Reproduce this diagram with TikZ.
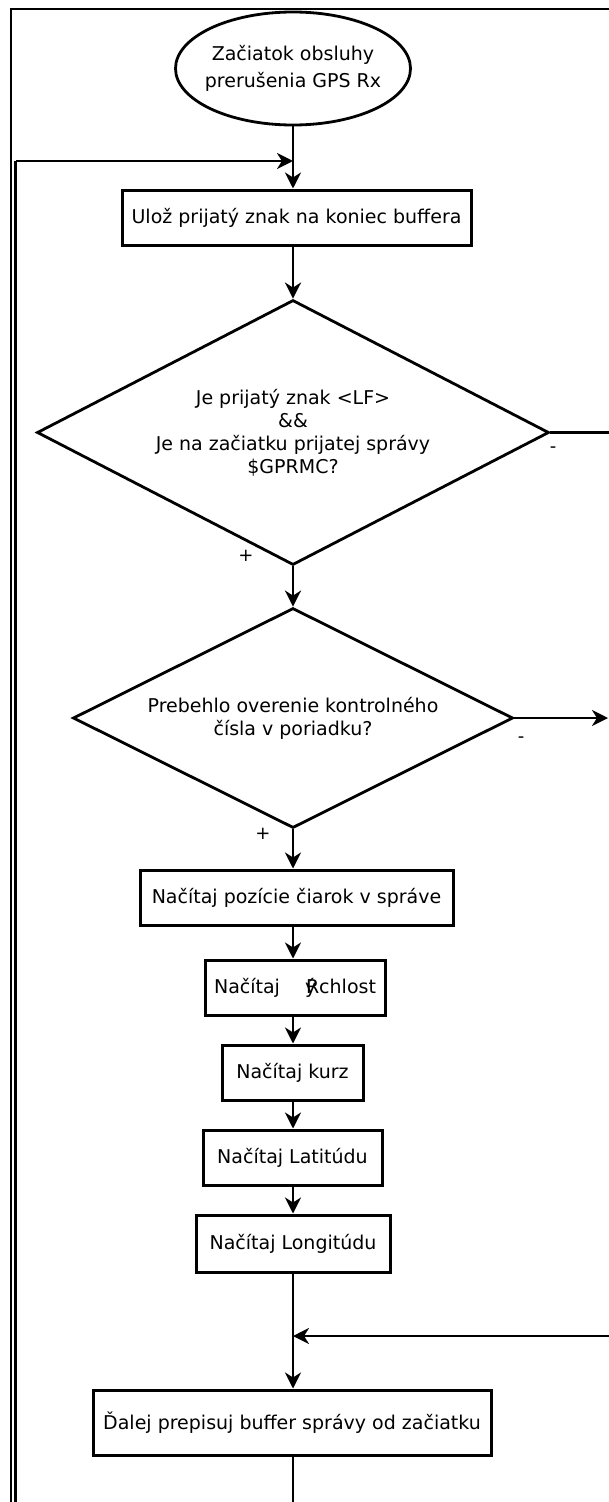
\documentclass[tikz,border=0pt]{standalone}
\usepackage{fontspec}
\setmainfont{DejaVu Sans}
\usetikzlibrary{shapes.geometric,arrows.meta}

\begin{document}
\begin{tikzpicture}[x=1pt,y=-1pt,
  txt/.style={font=\fontsize{19}{23}\selectfont, align=center},
  box/.style={draw, line width=3pt, rectangle, inner sep=0pt, txt},
  startnode/.style={draw, line width=2.8pt, ellipse, inner xsep=-5.5pt, inner ysep=0pt, txt},
  decision/.style={draw, line width=2.8pt, diamond, inner sep=0pt, txt},
  wire/.style={line width=2.8pt},
  conn/.style={wire, -{Stealth[length=16pt,width=16pt,inset=5pt]}},
  sign/.style={font=\fontsize{18}{18}\selectfont, inner sep=0pt}
]
\useasboundingbox (0,0) rectangle (609,1502);

% outer frame
\draw[line width=2.6pt] (11,1505) -- (11,9) -- (612,9);

% start
\node[startnode, minimum width=235pt, minimum height=113pt,
      font=\fontsize{19}{27}\selectfont] (start) at (293,68.5)
  {Začiatok obsluhy\\prerušenia GPS Rx};

\coordinate (join) at (293,161);

\node[box, minimum width=349pt, minimum height=55pt] (store) at (296.5,217.5)
  {Ulož prijatý znak na koniec buffera};

\node[decision, aspect=1.93, minimum width=512pt, minimum height=265pt] (lf) at (293,432.5)
  {Je prijatý znak <LF>\\\&\&\\Je na začiatku prijatej správy\\\$GPRMC?};

\node[decision, aspect=2, minimum width=440pt, minimum height=220pt] (crc) at (293,718)
  {Prebehlo overenie kontrolného\\čísla v poriadku?};

\node[box, minimum width=313pt, minimum height=55pt] (commas) at (296.5,897.5)
  {Načítaj pozície čiarok v správe};

\node[box, minimum width=180pt, minimum height=55pt] (speed) at (295,987.5)
  {Načítaj\hspace{26pt}\makebox[0pt][l]{\hspace{-1pt}ý}Rchlost};

\node[box, minimum width=141pt, minimum height=55pt] (course) at (292.5,1072.5)
  {Načítaj kurz};

\node[box, minimum width=179pt, minimum height=55pt] (lat) at (292.5,1157.5)
  {Načítaj Latitúdu};

\node[box, minimum width=194pt, minimum height=57pt] (lon) at (293,1243.5)
  {Načítaj Longitúdu};

\coordinate (merge) at (293,1336);

\node[box, minimum width=398pt, minimum height=65pt] (rewind) at (292,1422.5)
  {Ďalej prepisuj buffer správy od začiatku};

% edge points on the right and bottom
\coordinate (lfout) at (612,432.5);
\coordinate (crcout) at (608,718);
\coordinate (mergein) at (612,1336);
\coordinate (loopbot) at (293,1503.2);
\coordinate (loopcorner) at (15.5,1503.2);
\coordinate (loopleft) at (15.5,161);

% main flow
\draw[conn] (start.south) -- (start.south |- store.north);
\draw[conn] (store.south -| start.south) -- (lf.north);
\draw[conn] (lf.south) -- (crc.north);
\draw[conn] (crc.south) -- (crc.south |- commas.north);
\draw[conn] (commas.south -| crc.south) -- (crc.south |- speed.north);
\draw[conn] (speed.south -| crc.south) -- (crc.south |- course.north);
\draw[conn] (course.south -| crc.south) -- (crc.south |- lat.north);
\draw[conn] (lat.south -| crc.south) -- (crc.south |- lon.north);
\draw[conn] (lon.south -| crc.south) -- (crc.south |- rewind.north);

% branches leaving to the right
\draw[wire] (lf.east) -- (lfout);
\draw[conn] (crc.east) -- (crcout);
\draw[conn] (mergein) -- (merge);

% loop back to the top
\draw[wire] (rewind.south -| crc.south) -- (loopbot) -- (loopcorner) -- (loopleft);
\draw[conn] (loopleft) -- (join);

% branch signs
\node[sign] (lfyes) at (246,556) {+};
\node[sign] (lfno) at (553,450) {-};
\node[sign] (crcyes) at (263,834) {+};
\node[sign] (crcno) at (521,740) {-};
\end{tikzpicture}
\end{document}
